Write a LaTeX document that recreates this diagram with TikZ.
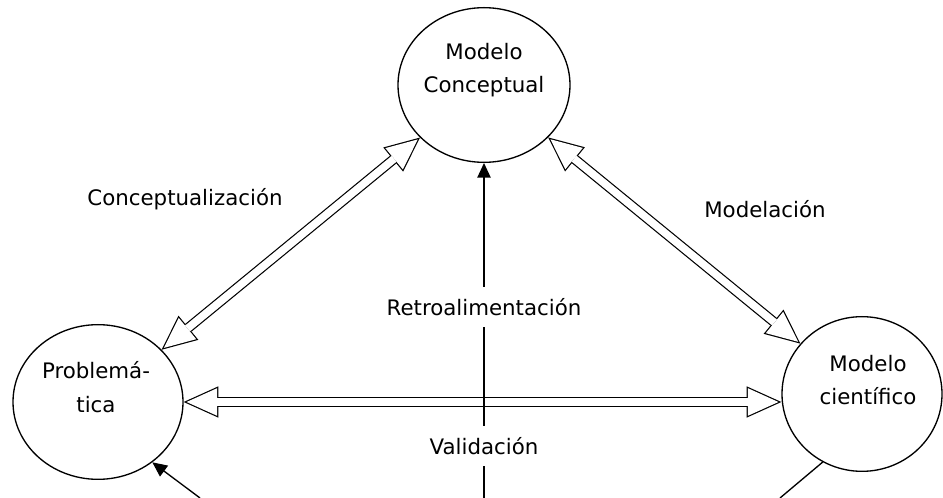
\documentclass[tikz,border=0pt]{standalone}
\usepackage{fontspec}
\setmainfont{DejaVu Sans}
\usetikzlibrary{arrows.meta, shapes.geometric, positioning}

\begin{document}
\begin{tikzpicture}[x=0.75pt, y=-0.75pt,
    every node/.style={font=\fontsize{16}{25}\selectfont},
    bubble/.style={draw, ellipse, line width=1pt, minimum height=116pt, inner sep=0pt},
    dblout/.style={line width=7.5pt,
        {Triangle[length=26pt, width=23.5pt, line width=0pt]}-{Triangle[length=26pt, width=23.5pt, line width=0pt]}},
    dblin/.style={line width=5.7pt, white, shorten <=2.19pt, shorten >=2.19pt,
        {Triangle[length=22.9pt, width=20.7pt, line width=0pt]}-{Triangle[length=22.9pt, width=20.7pt, line width=0pt]}},
    feed/.style={line width=1pt, -{Triangle[length=11pt, width=10pt]}},
    gap/.style={fill=white, minimum height=30pt, inner xsep=2pt}]
\useasboundingbox (0,0) rectangle (943,498);

\node[bubble, minimum width=129pt] (mc) at (484,85) {};
\node[align=center] (mctext) at (484,70) {Modelo\\Conceptual};
\node[bubble, minimum width=127.5pt] (pb) at (98,402) {};
\node[align=center] (pbtext) at (96,387) {Problemá-\\tica};
\node[bubble, minimum width=120pt] (mcf) at (862,394) {};
\node[align=center] (mcftext) at (868,380) {Modelo\\científico};

\node (concept) at (185,199) {Conceptualización};
\node (model) at (765,209) {Modelación};

\coordinate (lb) at (200,498);
\coordinate (cb) at (484,498);
\coordinate (rb) at (780,498);

% hollow double arrows: black pass, then white pass
\draw (mc) edge[dblout] (pb) edge[dblin] (pb);
\draw (mc) edge[dblout] (mcf) edge[dblin] (mcf);
\draw (pb.east) edge[dblout] (pb.east -| mcf.west)
    edge[dblin] (pb.east -| mcf.west);

\draw[feed] (cb) -- node[gap, pos=0.155] (val) {Validación}
    node[gap, pos=0.57] (retro) {Retroalimentación} (mc.south);
\draw[feed] (lb) -- (pb.-48);
\draw[line width=1pt] (mcf.-120) -- (rb);
\end{tikzpicture}
\end{document}
